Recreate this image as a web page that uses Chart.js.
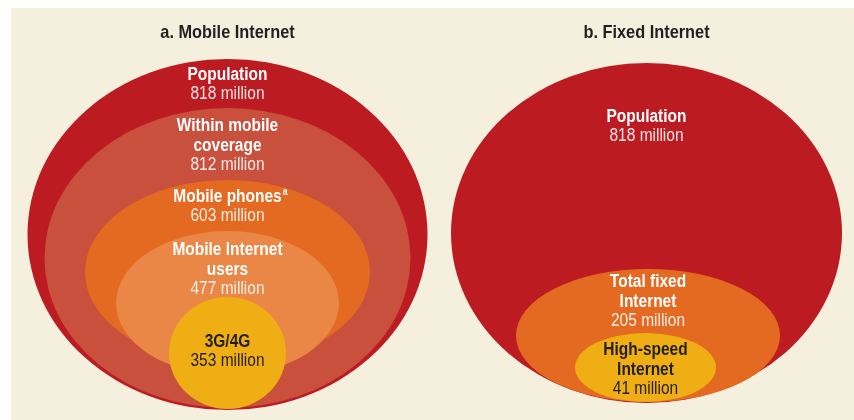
<!DOCTYPE html>
<html>
<head>
<meta charset="utf-8">
<script src="https://cdn.jsdelivr.net/npm/chart.js@4"></script>
<style>
  html, body { margin: 0; padding: 0; background: #ffffff; }
  #wrap { position: absolute; left: 11px; top: 8px; width: 843px; height: 412px; background: #F5EFDD; }
</style>
</head>
<body>
<div id="wrap"><canvas id="circulos"></canvas></div>
<script>
// datos (millones de personas)
const mobileTitle = 'a. Mobile Internet';
const mobileCategories = ['Population', 'Within mobile\ncoverage', 'Mobile phones', 'Mobile Internet\nusers', '3G/4G'];
const mobileValues = [818, 812, 603, 477, 353];

const fixedTitle = 'b. Fixed Internet';
const fixedCategories = ['Population', 'Total fixed\nInternet', 'High-speed\nInternet'];
const fixedValues = [818, 205, 41];

// forma de cada anillo, en unidades de las escalas (0..843 x 0..412)
const mobileRings = [
  { cx: 216.5, cy: 226.5, rx: 200, ry: 175.5, textY: 67 },
  { cx: 216.5, cy: 250, rx: 183, ry: 150, textY: 118 },
  { cx: 216.5, cy: 264, rx: 142.5, ry: 92, textY: 189 },
  { cx: 216.5, cy: 295, rx: 111.5, ry: 72, textY: 242 },
  { cx: 216.5, cy: 345, rx: 58.5, ry: 56, textY: 334 }
];
const fixedRings = [
  { cx: 635.5, cy: 225, rx: 195.5, ry: 170, textY: 109 },
  { cx: 637, cy: 327.5, rx: 132, ry: 66.5, textY: 274 },
  { cx: 634.5, cy: 359.5, rx: 70.5, ry: 34.5, textY: 342 }
];
const mobileColors = ['#BD1B22', '#C9503C', '#E46A21', '#EA8646', '#EFAF14'];
const fixedColors = ['#BD1B22', '#E46A21', '#EFAF14'];
const mobileText = ['#ffffff', '#ffffff', '#ffffff', '#ffffff', '#231F20'];
const fixedText = ['#ffffff', '#ffffff', '#231F20'];

const fontName = "'Liberation Sans', Arial, sans-serif";
const estrecho = 0.86; // la fuente original es condensada

function texto(ctx, t, x, y, font, align) {
  ctx.save();
  ctx.font = font;
  ctx.textAlign = align || 'center';
  ctx.textBaseline = 'middle';
  ctx.translate(x, y);
  ctx.scale(estrecho, 1);
  ctx.fillText(t, 0, 0);
  const w = ctx.measureText(t).width * estrecho;
  ctx.restore();
  return w;
}

function hacerDataset(title, cats, vals, rings, colors, textColors) {
  return {
    label: title,
    data: rings.map((r, i) => ({
      x: r.cx, y: r.cy, rx: r.rx, ry: r.ry, textY: r.textY,
      name: cats[i], value: vals[i]
    })),
    ringColors: colors,
    textColors: textColors,
    pointRadius: 0
  };
}

const elipses = {
  id: 'elipses',
  beforeDatasetsDraw(chart) {
    const ctx = chart.ctx;
    const xs = chart.scales.x;
    const ys = chart.scales.y;
    chart.data.datasets.forEach((ds, di) => {
      const meta = chart.getDatasetMeta(di);
      // titulo del panel
      ctx.fillStyle = '#231F20';
      texto(ctx, ds.label, meta.data[0].x, ys.getPixelForValue(24.5), 'bold 19px ' + fontName);

      ds.data.forEach((p, i) => {
        const el = meta.data[i];
        const rx = Math.abs(xs.getPixelForValue(p.x + p.rx) - xs.getPixelForValue(p.x));
        const ry = Math.abs(ys.getPixelForValue(p.y + p.ry) - ys.getPixelForValue(p.y));
        ctx.save();
        ctx.fillStyle = ds.ringColors[i];
        ctx.beginPath();
        ctx.ellipse(el.x, el.y, rx, ry, 0, 0, Math.PI * 2);
        ctx.fill();
        ctx.restore();
      });

      ds.data.forEach((p, i) => {
        const el = meta.data[i];
        const lines = p.name.split('\n');
        let y = ys.getPixelForValue(p.textY);
        ctx.save();
        ctx.fillStyle = ds.textColors[i];
        lines.forEach(l => {
          const w = texto(ctx, l, el.x, y, 'bold 18px ' + fontName);
          if (l === 'Mobile phones') {
            texto(ctx, 'a', el.x + w / 2 + 1, y - 5, 'bold 10px ' + fontName, 'left');
          }
          y += 20;
        });
        ctx.globalAlpha = ds.textColors[i] === '#ffffff' ? 0.88 : 1;
        texto(ctx, p.value + ' million', el.x, y - 1, '18px ' + fontName);
        ctx.restore();
      });
    });
  }
};

new Chart(document.getElementById('circulos'), {
  type: 'scatter',
  data: {
    datasets: [
      hacerDataset(mobileTitle, mobileCategories, mobileValues, mobileRings, mobileColors, mobileText),
      hacerDataset(fixedTitle, fixedCategories, fixedValues, fixedRings, fixedColors, fixedText)
    ]
  },
  options: {
    responsive: true,
    maintainAspectRatio: false,
    animation: false,
    layout: { padding: 0 },
    scales: {
      x: { type: 'linear', min: 0, max: 843, display: false },
      y: { type: 'linear', min: 0, max: 412, reverse: true, display: false }
    },
    plugins: {
      legend: { display: false },
      tooltip: { enabled: false }
    }
  },
  plugins: [elipses]
});
</script>
</body>
</html>
